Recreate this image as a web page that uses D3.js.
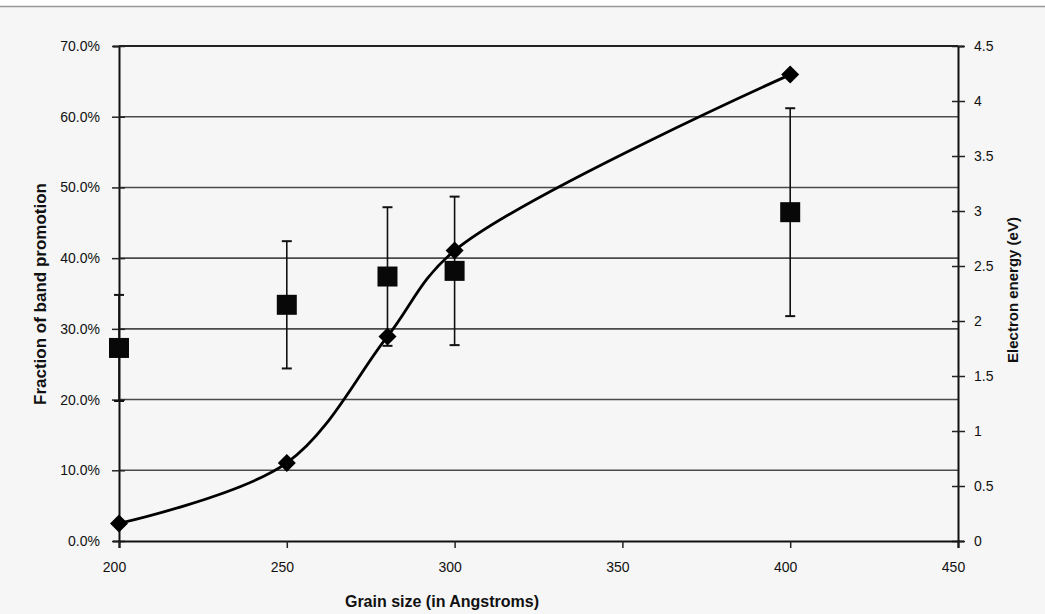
<!DOCTYPE html>
<html><head><meta charset="utf-8">
<script src="https://cdn.jsdelivr.net/npm/d3@7"></script>
<style>
html,body{margin:0;padding:0;background:#f6f6f6;}
svg{display:block;}
text{font-family:"Liberation Sans",Arial,sans-serif;fill:#111;}
</style></head>
<body>
<svg id="chart" width="1045" height="614"></svg>
<script>
// Data
const grainSizes = [200, 250, 280, 300, 400];
const bandFraction = [27.3, 33.4, 37.4, 38.2, 46.5];      // % (left axis, squares)
const bandError = [7.5, 9.0, 9.8, 10.5, 14.7];            // % error bar half-length
const electronEnergy = [0.16, 0.71, 1.86, 2.64, 4.24];    // eV (right axis, diamonds)
const xTicks = [200, 250, 300, 350, 400, 450];
const yLeftTicks = [0, 10, 20, 30, 40, 50, 60, 70];
const yRightTicks = [0, 0.5, 1, 1.5, 2, 2.5, 3, 3.5, 4, 4.5];

const svg = d3.select("#chart");
const mLeft = 119, mRight = 958, mTop = 46, mBottom = 541;

// top page strip
svg.append("rect").attr("x",0).attr("y",0).attr("width",1045).attr("height",6).attr("fill","#ffffff");
svg.append("line").attr("x1",0).attr("x2",1045).attr("y1",6.5).attr("y2",6.5).attr("stroke","#999").attr("stroke-width",1.5);

const x = d3.scaleLinear().domain([200, 450]).range([mLeft, mRight]);
const yL = d3.scaleLinear().domain([0, 70]).range([mBottom, mTop]);
const yR = d3.scaleLinear().domain([0, 4.5]).range([mBottom, mTop]);

// gridlines
svg.append("g").selectAll("line").data(yLeftTicks.filter(d => d > 0)).join("line")
  .attr("x1", mLeft).attr("x2", mRight)
  .attr("y1", d => yL(d)).attr("y2", d => yL(d))
  .attr("stroke", d => d === 70 ? "#222" : "#4a4a4a").attr("stroke-width", d => d === 70 ? 2 : 1.6);

// left axis
const gL = svg.append("g").attr("transform", `translate(${mLeft},0)`)
  .call(d3.axisLeft(yL).tickValues(yLeftTicks).tickFormat(d => d.toFixed(1) + "%").tickSize(6).tickPadding(13));
gL.select(".domain").attr("stroke", "#111").attr("stroke-width", 2);
gL.selectAll(".tick line").attr("x2", 6).attr("x1", -7).attr("stroke", "#222").attr("stroke-width", 1.5);
gL.selectAll(".tick text").attr("font-size", 14).attr("fill", "#1a1a1a");

// right axis
const gR = svg.append("g").attr("transform", `translate(${mRight},0)`)
  .call(d3.axisRight(yR).tickValues(yRightTicks).tickFormat(d => String(d)).tickSize(6).tickPadding(10));
gR.select(".domain").attr("stroke", "#111").attr("stroke-width", 2);
gR.selectAll(".tick line").attr("x1", -6).attr("x2", 7).attr("stroke", "#222").attr("stroke-width", 1.5);
gR.selectAll(".tick text").attr("font-size", 14).attr("fill", "#1a1a1a");

// bottom axis
const gB = svg.append("g").attr("transform", `translate(0,${mBottom})`)
  .call(d3.axisBottom(x).tickValues(xTicks).tickFormat(d => String(d)).tickSize(7).tickPadding(14));
gB.select(".domain").attr("stroke", "#111").attr("stroke-width", 2.2);
gB.selectAll(".tick line").attr("stroke", "#222").attr("stroke-width", 1.5);
gB.selectAll(".tick text").attr("font-size", 14).attr("fill", "#1a1a1a").attr("dx", "-5");

// error bars
const pts = grainSizes.map((g, i) => ({g, v: bandFraction[i], e: bandError[i], en: electronEnergy[i]}));
const eb = svg.append("g");
eb.selectAll("line.v").data(pts).join("line")
  .attr("x1", d => x(d.g)).attr("x2", d => x(d.g))
  .attr("y1", d => yL(d.v + d.e)).attr("y2", d => yL(d.v - d.e))
  .attr("stroke", "#111").attr("stroke-width", 1.6);
["top","bot"].forEach(k => {
  eb.append("g").selectAll("line").data(pts).join("line")
    .attr("x1", d => x(d.g) - 5).attr("x2", d => x(d.g) + 5)
    .attr("y1", d => yL(k === "top" ? d.v + d.e : d.v - d.e))
    .attr("y2", d => yL(k === "top" ? d.v + d.e : d.v - d.e))
    .attr("stroke", "#111").attr("stroke-width", 2);
});

// smooth energy line
const line = d3.line().x(d => x(d.g)).y(d => yR(d.en)).curve(d3.curveCatmullRom.alpha(0.5));
svg.append("path").datum(pts).attr("d", line).attr("fill", "none").attr("stroke", "#000").attr("stroke-width", 2.8);

// squares
svg.append("g").selectAll("rect").data(pts).join("rect")
  .attr("x", d => x(d.g) - 10).attr("y", d => yL(d.v) - 10)
  .attr("width", 20).attr("height", 20).attr("fill", "#080808");

// diamonds
svg.append("g").selectAll("path").data(pts).join("path")
  .attr("transform", d => `translate(${x(d.g)},${yR(d.en)})`)
  .attr("d", "M0,-9L9,0L0,9L-9,0Z").attr("fill", "#000");

// titles
svg.append("text").attr("x", 442).attr("y", 607).attr("text-anchor", "middle")
  .attr("font-size", 16).attr("font-weight", "bold").text("Grain size (in Angstroms)");
svg.append("text").attr("transform", "translate(46,294) rotate(-90)").attr("text-anchor", "middle")
  .attr("font-size", 17).attr("font-weight", "bold").text("Fraction of band promotion");
svg.append("text").attr("transform", "translate(1018,290) rotate(-90)").attr("text-anchor", "middle")
  .attr("font-size", 15).attr("font-weight", "bold").text("Electron energy (eV)");
</script>
</body></html>
